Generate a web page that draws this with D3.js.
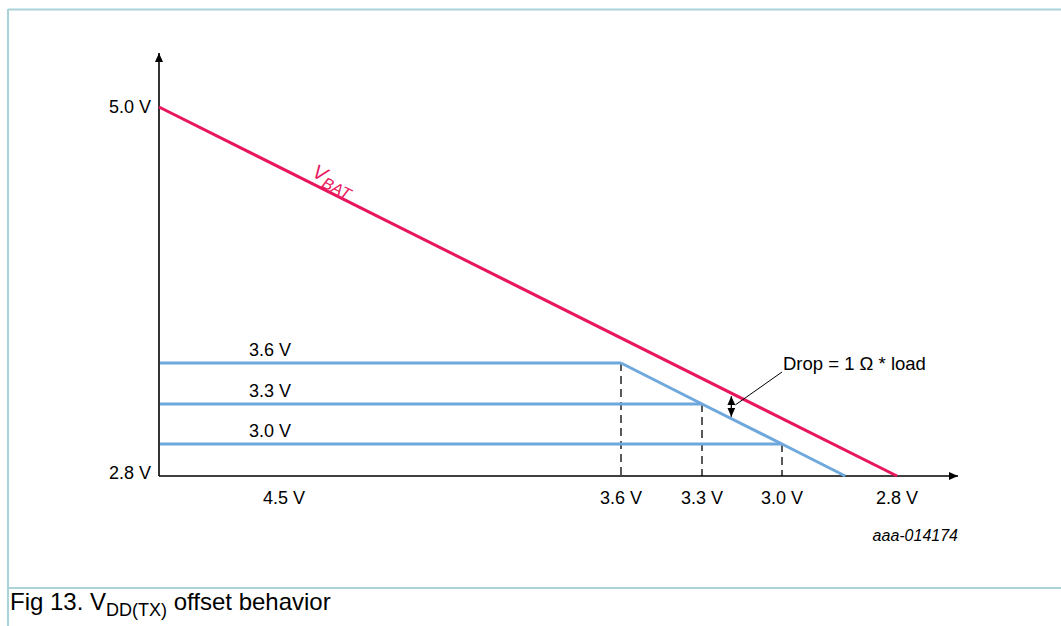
<!DOCTYPE html>
<html>
<head>
<meta charset="utf-8">
<script src="https://cdn.jsdelivr.net/npm/d3@7"></script>
<style>
  body { margin: 0; background: #fff; }
  svg text { font-family: "Liberation Sans", Arial, sans-serif; }
</style>
</head>
<body>
<div id="chart"></div>
<script>
// battery voltage (schematic) along the time axis
const vbatLine = [{ x: 5.0, y: 5.0 }, { x: 2.8, y: 2.8 }];
// regulated output levels and the dropout knee (VBAT value where it starts to fall)
const levels = [3.6, 3.3, 3.0];
const levelLabels = ["3.6 V", "3.3 V", "3.0 V"];
// dropout slope, follows VBAT minus the drop
const dropout = [
  { x: 3.6, y: 3.6 },
  { x: 3.3, y: 3.3 },
  { x: 3.0, y: 3.0 },
  { x: 2.89, y: 2.8 }
];
const xTickValues = [4.5, 3.6, 3.3, 3.0, 2.8];
const xTickLabels = ["4.5 V", "3.6 V", "3.3 V", "3.0 V", "2.8 V"];
const yTickValues = [5.0, 2.8];
const yTickLabels = ["5.0 V", "2.8 V"];
const dropAt = 3.19;

const width = 1061, height = 626;
const red = "#e8175d", blue = "#6fa8dc", frame = "#a9d3d9";

// schematic, not to scale: piecewise scales
const x = d3.scaleLinear()
  .domain([5.0, 4.5, 3.6, 3.3, 3.0, 2.8])
  .range([159, 284, 621, 702, 782, 897]);
const y = d3.scaleLinear()
  .domain([2.8, 3.0, 3.3, 3.6, 5.0])
  .range([476, 444, 404, 363, 107]);

const svg = d3.select("#chart").append("svg")
  .attr("width", width)
  .attr("height", height);

// frame
svg.append("line").attr("x1", 8).attr("x2", width).attr("y1", 9.5).attr("y2", 9.5)
  .attr("stroke", frame).attr("stroke-width", 2);
svg.append("line").attr("x1", 8).attr("x2", 8).attr("y1", 9).attr("y2", height)
  .attr("stroke", frame).attr("stroke-width", 2);
svg.append("line").attr("x1", 8).attr("x2", width).attr("y1", 588).attr("y2", 588)
  .attr("stroke", frame).attr("stroke-width", 2);

// arrow marker
svg.append("defs").append("marker")
  .attr("id", "arrow")
  .attr("markerUnits", "userSpaceOnUse")
  .attr("markerWidth", 12).attr("markerHeight", 12)
  .attr("refX", 9).attr("refY", 4)
  .attr("orient", "auto-start-reverse")
  .append("path")
  .attr("d", "M0,0 L9,4 L0,8 Z")
  .attr("fill", "black");

// axes
const x0 = x(5.0), y0 = y(2.8);
svg.append("line")
  .attr("x1", x0).attr("y1", y0).attr("x2", x0).attr("y2", 53)
  .attr("stroke", "black").attr("stroke-width", 1.6)
  .attr("marker-end", "url(#arrow)");
svg.append("line")
  .attr("x1", x0).attr("y1", y0).attr("x2", 958).attr("y2", y0)
  .attr("stroke", "black").attr("stroke-width", 1.6)
  .attr("marker-end", "url(#arrow)");

svg.append("g").selectAll("text")
  .data(xTickValues)
  .join("text")
  .attr("x", (d) => x(d))
  .attr("y", y0 + 28)
  .attr("text-anchor", "middle")
  .style("font-size", "18px")
  .text((d, i) => xTickLabels[i]);

svg.append("g").selectAll("text")
  .data(yTickValues)
  .join("text")
  .attr("x", x0 - 8)
  .attr("y", (d, i) => y(d) + (i === 0 ? 6 : 3))
  .attr("text-anchor", "end")
  .style("font-size", "18px")
  .text((d, i) => yTickLabels[i]);

// dashed knee markers
svg.append("g").selectAll("line")
  .data(levels)
  .join("line")
  .attr("x1", (d) => x(d)).attr("x2", (d) => x(d))
  .attr("y1", (d) => y(d)).attr("y2", y0)
  .attr("stroke", "black").attr("stroke-width", 1.3)
  .attr("stroke-dasharray", "8,5");

// regulated levels
svg.append("g").selectAll("line")
  .data(levels)
  .join("line")
  .attr("x1", x0 + 1).attr("x2", (d) => x(d))
  .attr("y1", (d) => y(d)).attr("y2", (d) => y(d))
  .attr("stroke", blue).attr("stroke-width", 3);

svg.append("g").selectAll("text")
  .data(levels)
  .join("text")
  .attr("x", 270)
  .attr("y", (d) => y(d) - 7)
  .attr("text-anchor", "middle")
  .style("font-size", "18px")
  .text((d, i) => levelLabels[i]);

const line = d3.line().x((d) => x(d.x)).y((d) => y(d.y));

svg.append("path")
  .datum(dropout)
  .attr("d", line)
  .attr("fill", "none")
  .attr("stroke", blue).attr("stroke-width", 3);

svg.append("path")
  .datum(vbatLine)
  .attr("d", line)
  .attr("fill", "none")
  .attr("stroke", red).attr("stroke-width", 3);

// VBAT label along the line
const p0 = [x(vbatLine[0].x), y(vbatLine[0].y)];
const p1 = [x(vbatLine[1].x), y(vbatLine[1].y)];
const angle = Math.atan2(p1[1] - p0[1], p1[0] - p0[0]) * 180 / Math.PI;
const vb = svg.append("text")
  .attr("transform", `translate(311,${p0[1] + (311 - p0[0]) * (p1[1] - p0[1]) / (p1[0] - p0[0]) - 7}) rotate(${angle})`)
  .attr("fill", red)
  .style("font-size", "20px")
  .style("font-style", "italic");
vb.append("tspan").text("V");
vb.append("tspan").attr("dy", 5).style("font-size", "16px").text("BAT");

// drop annotation
const ax = x(dropAt);
const ayTop = p0[1] + (ax - p0[0]) * (p1[1] - p0[1]) / (p1[0] - p0[0]);
const ayBot = y(3.3) + (ax - x(3.3)) * (y(3.0) - y(3.3)) / (x(3.0) - x(3.3));
svg.append("line")
  .attr("x1", ax).attr("x2", ax)
  .attr("y1", ayTop + 3).attr("y2", ayBot - 2)
  .attr("stroke", "black").attr("stroke-width", 1.3)
  .attr("marker-start", "url(#arrow)")
  .attr("marker-end", "url(#arrow)");
svg.append("line")
  .attr("x1", ax + 4).attr("y1", (ayTop + ayBot) / 2 - 1)
  .attr("x2", 782).attr("y2", 372)
  .attr("stroke", "black").attr("stroke-width", 1);
svg.append("text")
  .attr("x", 783).attr("y", 370)
  .style("font-size", "18.5px")
  .text("Drop = 1 \u03A9 * load");

// figure id
svg.append("text")
  .attr("x", 958).attr("y", 541)
  .attr("text-anchor", "end")
  .style("font-size", "16px")
  .style("font-style", "italic")
  .text("aaa-014174");

// caption
const cap = svg.append("text")
  .attr("x", 10).attr("y", 610)
  .style("font-size", "24px");
cap.append("tspan").text("Fig 13. V");
cap.append("tspan").attr("dy", 6).style("font-size", "18px").text("DD(TX)");
cap.append("tspan").attr("dy", -6).text(" offset behavior");
</script>
</body>
</html>
